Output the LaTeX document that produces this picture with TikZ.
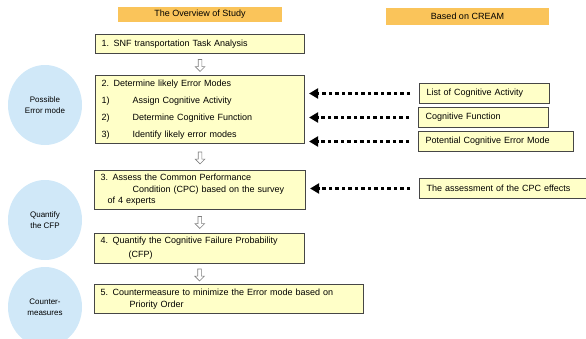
\documentclass[tikz,border=0pt]{standalone}
\usepackage{fontspec}
\setmainfont{Liberation Sans}
\usepackage{tikz}
\usetikzlibrary{shapes,shapes.geometric,shapes.arrows,arrows.meta,calc}

\definecolor{boxyellow}{RGB}{255,255,200}
\definecolor{headorange}{RGB}{250,196,90}
\definecolor{phaseblue}{RGB}{208,232,248}
\definecolor{boxline}{RGB}{70,70,70}

\begin{document}
\begin{tikzpicture}[x=1pt,y=-1pt]
			\tikzstyle{every node}=[font=\fontsize{9}{10.8}\selectfont]
			\tikzstyle{headbox}=[rectangle, fill=headorange, inner sep=0pt]
			\tikzstyle{stepbox}=[rectangle, draw=boxline, line width=1.1pt, fill=boxyellow, align=left, inner xsep=6pt, inner ysep=0pt, anchor=north west]
			\tikzstyle{refbox}=[stepbox, line width=1pt, inner xsep=7pt]
			\tikzstyle{phase}=[ellipse, fill=phaseblue, minimum width=74pt, minimum height=80pt, inner sep=0pt, align=center, font=\fontsize{8}{9.6}\selectfont]
			\tikzstyle{downarrow}=[single arrow, draw=gray, fill=white, line width=0.6pt, rotate=-90, minimum height=12pt, inner sep=1.5pt, single arrow head extend=3pt]
			\tikzstyle{feed}=[line width=2.6pt, dash pattern=on 3.5pt off 3pt, -{Triangle[length=9pt,width=10pt]}, shorten <=9pt, shorten >=4pt]
			\useasboundingbox (0,0) rectangle (586,338);
			\clip (0,0) rectangle (586,338);
			\node[headbox, minimum width=164pt, minimum height=15pt] (h1) at (200,14.5) {The Overview of Study};
			\node[headbox, minimum width=163pt, minimum height=17pt] (h2) at (467.5,16.5) {Based on CREAM};
			\node[phase] (c1) at (45,105) {Possible\\[1pt]Error mode};
			\node[phase] (c2) at (45,220) {Quantify\\[1pt]the CFP};
			\node[phase] (c3) at (45,307) {Counter-\\[1pt]measures};
			\node[stepbox, text width=197pt, minimum height=19pt] (s1) at (95,34) {1. SNF transportation Task Analysis};
			\node[stepbox, text width=197pt, minimum height=68pt] (s2) at (95,75) {2. Determine likely Error Modes\\[6pt]\makebox[31pt][l]{1)}Assign Cognitive Activity\\[6pt]\makebox[31pt][l]{2)}Determine Cognitive Function\\[6pt]\makebox[31pt][l]{3)}Identify likely error modes};
			\node[stepbox, text width=199pt, minimum height=39pt] (s3) at (94,170) {3. Assess the Common Performance\\[0.7pt]\hspace*{32pt}Condition (CPC) based on the survey\\[0.7pt]\hspace*{7pt}of 4 experts};
			\node[stepbox, text width=198pt, minimum height=30pt] (s4) at (94,233) {4. Quantify the Cognitive Failure Probability\\[3.2pt]\hspace*{28pt}(CFP)};
			\node[stepbox, text width=257pt, minimum height=29pt] (s5) at (94,284) {5. Countermeasure to minimize the Error mode based on\\[1.2pt]\hspace*{29pt}Priority Order};
			\node[downarrow] (a1) at ($(s1.south)!0.5!(s2.north)$) {};
			\node[downarrow] (a2) at ($(s2.south)!0.5!(s3.north)$) {};
			\node[downarrow] (a3) at ($(s3.south)!0.5!(s4.north)$) {};
			\node[downarrow] (a4) at ($(s4.south)!0.5!(s4.south|-s5.north)$) {};
			\node[refbox, text width=116pt, minimum height=20pt] (r1) at (419,83) {List of Cognitive Activity};
			\node[refbox, text width=116pt, minimum height=20pt] (r2) at (418,107) {Cognitive Function};
			\node[refbox, text width=141pt, minimum height=20pt] (r3) at (418,131) {Potential Cognitive Error Mode};
			\node[refbox, text width=175pt, minimum height=20pt] (r4) at (419,178) {The assessment of the CPC effects};
			\draw[feed] (r1.west) -- (r1.west -| s2.east);
			\draw[feed] (r2.west) -- (r2.west -| s2.east);
			\draw[feed] (r3.west) -- (r3.west -| s2.east);
			\draw[feed] (r4.west) -- (r4.west -| s3.east);
		\end{tikzpicture}
\end{document}
